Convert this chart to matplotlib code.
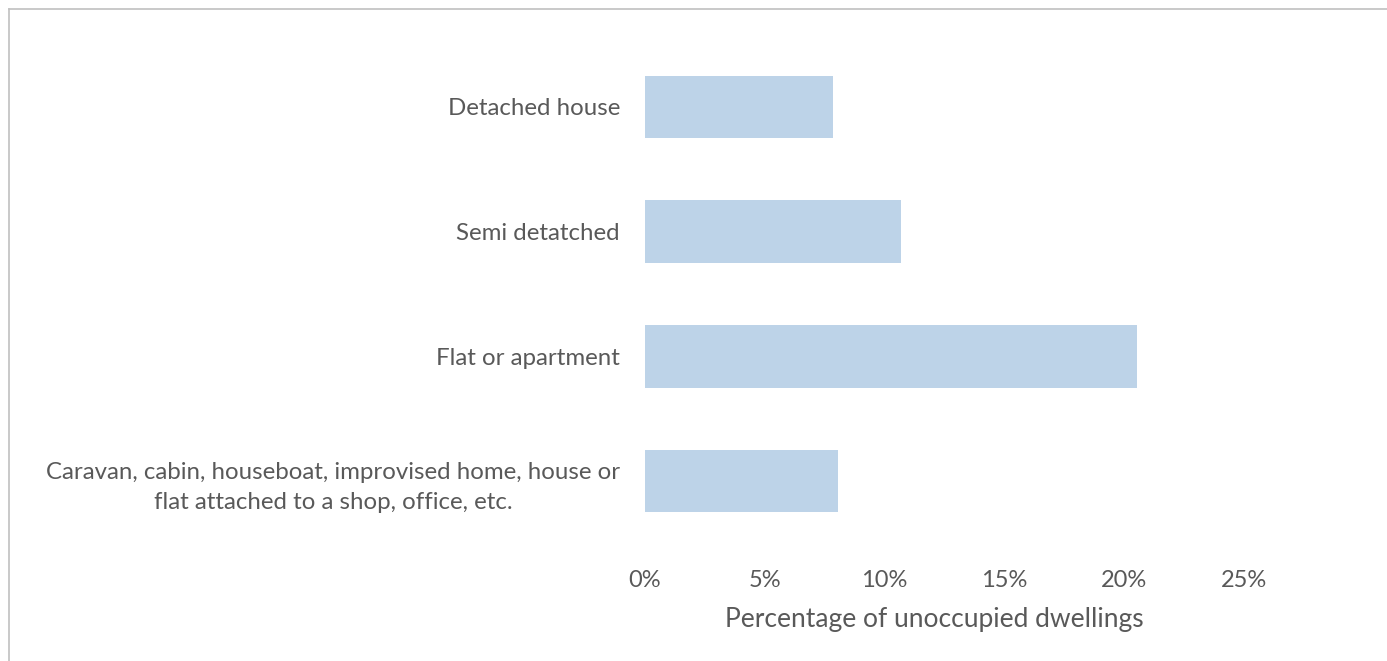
import matplotlib
matplotlib.use('Agg')
import matplotlib.pyplot as plt
from matplotlib.lines import Line2D
from matplotlib.ticker import PercentFormatter

categories = [
    'Detached house',
    'Semi detatched',
    'Flat or apartment',
    'Caravan, cabin, houseboat, improvised home, house or\nflat attached to a shop, office, etc.',
]
pct_unoccupied = [7.86, 10.67, 20.53, 8.06]
x_ticks = [0, 5, 10, 15, 20, 25]

text_grey = '#595959'
bar_blue = '#bdd3e8'

plt.rcParams['font.family'] = ['Lato', 'DejaVu Sans']

fig = plt.figure(figsize=(13.87, 6.61), dpi=100)
W, H = 1387, 661
ax = fig.add_axes([645 / W, 1 - 543.5 / H, (1244 - 645) / W, (543.5 - 44.5) / H])

ypos = list(range(len(categories)))
ax.barh(ypos, pct_unoccupied, height=0.5, color=bar_blue)
ax.set_ylim(len(categories) - 0.5, -0.5)
ax.set_xlim(0, 25)

ax.set_yticks(ypos)
ax.set_yticklabels(categories, fontsize=17.3, color=text_grey,
                   multialignment='center', linespacing=1.55)
ax.set_xticks(x_ticks)
ax.xaxis.set_major_formatter(PercentFormatter(decimals=0))
ax.tick_params(axis='x', length=0, pad=19, labelsize=17, labelcolor=text_grey)
ax.tick_params(axis='y', length=0, pad=18)
ax.set_xlabel('Percentage of unoccupied dwellings', fontsize=19, color=text_grey)
ax.xaxis.set_label_coords((934 - 645) / (1244 - 645), -0.128)

for s in ax.spines.values():
    s.set_visible(False)

# light outer frame, open on the right and bottom
fig.add_artist(Line2D([9 / W, 1], [1 - 9 / H, 1 - 9 / H], color='#c0c0c0', lw=1.2))
fig.add_artist(Line2D([9 / W, 9 / W], [0, 1 - 9 / H], color='#c0c0c0', lw=1.2))

fig.savefig('out.png', dpi=100)
